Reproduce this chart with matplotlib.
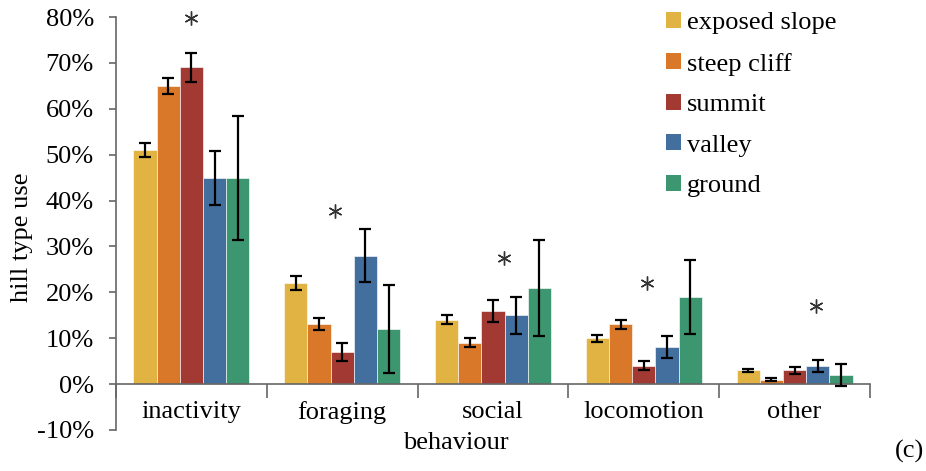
import matplotlib as mpl
mpl.use('agg')
import matplotlib.pyplot as plt
from matplotlib.patches import Patch
import numpy as np

plt.rcParams['font.family'] = ['Liberation Serif', 'DejaVu Serif']
plt.rcParams['font.size'] = 19

behaviours = ['inactivity', 'foraging', 'social', 'locomotion', 'other']
hill_types = ['exposed slope', 'steep cliff', 'summit', 'valley', 'ground']
colors = ['#E0B342', '#D97829', '#A23A33', '#436F9E', '#3C9670']

# percentage of use per hill type, one list per hill type (order follows behaviours)
exposed_slope = [51, 22, 14, 10, 3]
steep_cliff = [65, 13, 9, 13, 1]
summit = [69, 7, 16, 4, 3]
valley = [45, 28, 15, 8, 4]
ground = [45, 12, 21, 19, 2]

# error bar half-widths
exposed_slope_err = [1.5, 1.5, 1.0, 0.8, 0.35]
steep_cliff_err = [1.8, 1.3, 1.0, 0.9, 0.3]
summit_err = [3.2, 2.0, 2.4, 1.0, 0.7]
valley_err = [5.9, 5.8, 4.0, 2.4, 1.35]
ground_err = [13.5, 9.5, 10.5, 8.1, 2.4]

# significance markers: x in category units, y in percent
star_x = [0.5, 1.45, 2.57, 3.52, 4.64]
star_y = [79.7, 37.7, 27.4, 22.1, 17.0]

values = [exposed_slope, steep_cliff, summit, valley, ground]
errors = [exposed_slope_err, steep_cliff_err, summit_err, valley_err, ground_err]

W, H = 926, 471
fig = plt.figure(figsize=(W / 100, H / 100), dpi=100)
ax = fig.add_axes([116 / W, 1 - 430 / H, (870 - 116) / W, (430 - 17) / H])

centers = np.arange(len(behaviours)) + 0.5
bw = 0.154
for k in range(len(hill_types)):
    x = centers + (k - 2) * bw
    ax.bar(x, values[k], width=bw, color=colors[k],
           edgecolor=(1, 1, 1, 0.6), linewidth=0.7, zorder=2)
    ax.errorbar(x, values[k], yerr=errors[k], fmt='none', ecolor='black',
                elinewidth=1.6, capsize=4.6, capthick=1.6, zorder=3)

ax.plot(star_x, star_y, linestyle='none', marker=(6, 2, 0), markersize=10,
        markeredgewidth=1.0, color='#333333', zorder=4, clip_on=False)

ax.set_xlim(0, 5)
ax.set_ylim(-10, 80)
ax.set_yticks(np.arange(-10, 81, 10))
ax.set_yticklabels(['%d%%' % v for v in np.arange(-10, 81, 10)])

axis_color = '#666666'
for side in ['top', 'right']:
    ax.spines[side].set_visible(False)
ax.spines['left'].set_color(axis_color)
ax.spines['left'].set_linewidth(1.2)
ax.spines['bottom'].set_position(('data', 0))
ax.spines['bottom'].set_color(axis_color)
ax.spines['bottom'].set_linewidth(1.2)

ax.set_xticks(np.arange(0, 6))
ax.set_xticklabels([])
ax.set_xticks(centers, minor=True)
ax.set_xticklabels(behaviours, minor=True)
ax.tick_params(axis='x', which='major', length=10, width=1.2, color=axis_color, direction='out')
ax.tick_params(axis='x', which='minor', length=0, pad=12)
ax.tick_params(axis='y', length=5, width=1.2, color=axis_color, direction='out', pad=11)

fig.text(22 / W, 1 - 237 / H, 'hill type use', rotation=90, ha='center', va='center')
fig.text(456 / W, 1 - 443 / H, 'behaviour', ha='center', va='center')
fig.text(895 / W, 1 - 458 / H, '(c)', ha='left', va='baseline')

handles = [Patch(facecolor=c, edgecolor='none') for c in colors]
ax.legend(handles, hill_types, loc='upper left', bbox_to_anchor=(653 / W, 1 + 1 / H),
          bbox_transform=fig.transFigure, frameon=False, borderpad=0,
          handlelength=0.55, handleheight=0.55, handletextpad=0.25, labelspacing=0.69)

fig.savefig('out.png', dpi=100)
plt.close(fig)
